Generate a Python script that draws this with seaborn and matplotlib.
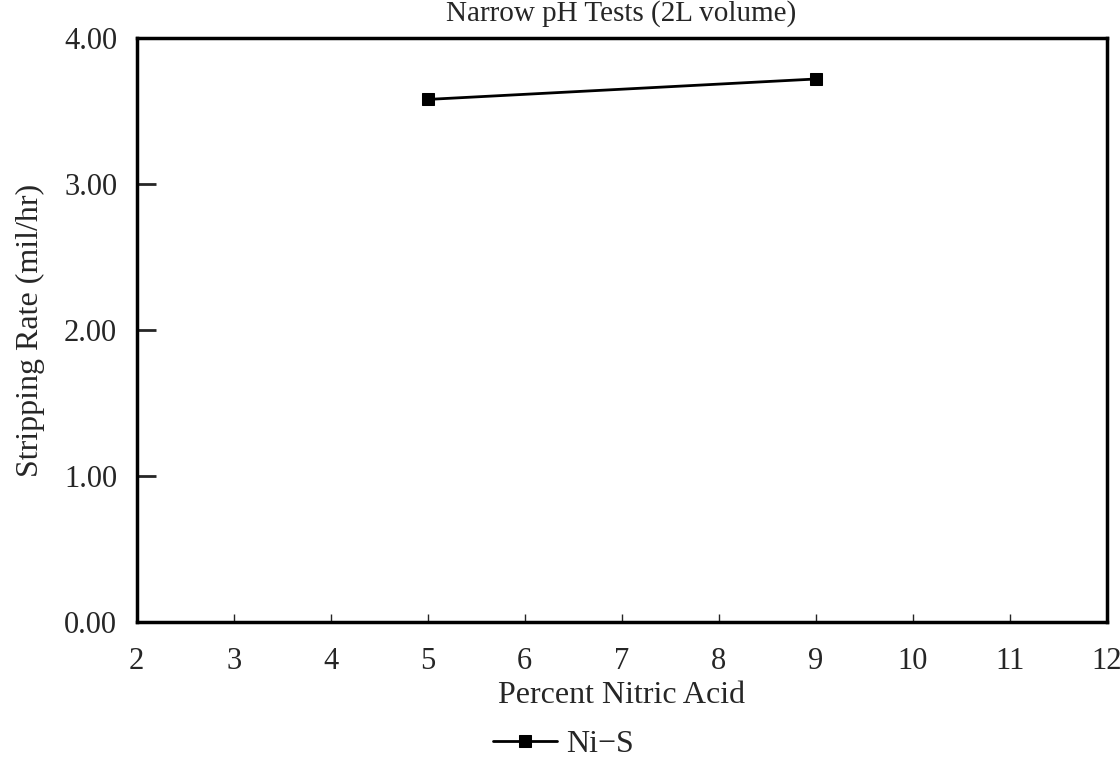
import matplotlib
matplotlib.use('Agg')
import matplotlib.pyplot as plt
import numpy as np
import pandas as pd
import seaborn as sb
from matplotlib.ticker import FormatStrFormatter

# data
percent_nitric = [5.0, 9.0]
stripping_rate = [3.58, 3.72]
series_name = 'Ni\u2212S'
x_ticks = list(range(2, 13))
y_ticks = [0, 1, 2, 3, 4]

sb.set_style('ticks')
plt.rcParams['font.family'] = ['Liberation Serif', 'DejaVu Serif']

df = pd.DataFrame({'pct': percent_nitric, 'rate': stripping_rate, 'series': series_name})

fig = plt.figure(figsize=(11.2, 7.63), dpi=100)
ax = fig.add_axes([0.122, 0.185, 0.866, 0.765])

sb.lineplot(data=df, x='pct', y='rate', ax=ax, color='black', marker='s',
            markersize=8, linewidth=2, markeredgecolor='black', label=series_name)

ax.set_xlim(2, 12)
ax.set_ylim(0, 4)
ax.set_xticks(x_ticks)
ax.set_yticks(y_ticks)
ax.yaxis.set_major_formatter(FormatStrFormatter('%.2f'))
ax.tick_params(axis='y', direction='in', length=14, width=2, labelsize=22, pad=14)
ax.tick_params(axis='x', direction='in', length=6, width=1, labelsize=22, pad=18)
for side in ax.spines.values():
    side.set_linewidth(2.5)
    side.set_color('black')

ax.set_xlabel('Percent Nitric Acid', fontsize=23, labelpad=4)
ax.set_ylabel('Stripping Rate (mil/hr)', fontsize=23, labelpad=14)

# title sits right at the top edge, as in the scan
fig.text(0.555, 1.0, 'Narrow pH Tests (2L volume)', ha='center', va='top', fontsize=21)

ax.legend(loc='upper center', bbox_to_anchor=(0.44, -0.135), frameon=False,
          fontsize=23, handlelength=2.0, handletextpad=0.3)

fig.savefig('out.png', dpi=100)
